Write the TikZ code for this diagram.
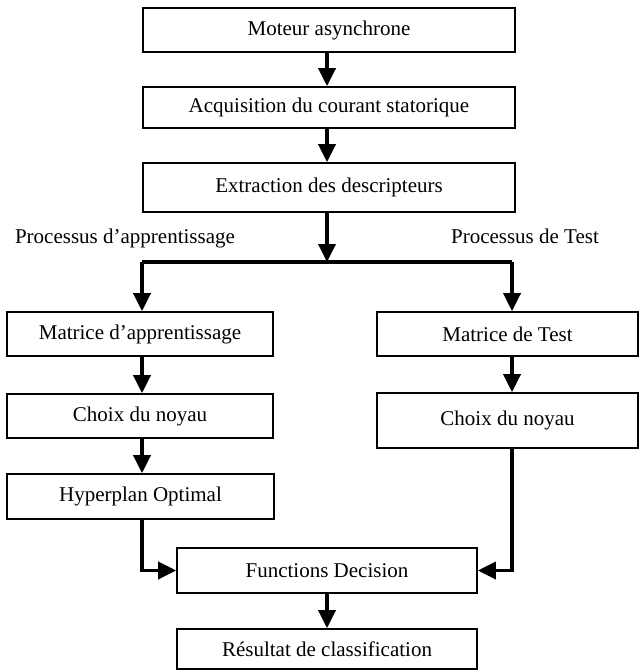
\documentclass[tikz,border=0pt]{standalone}
\usepackage{fontspec}
\setmainfont{Liberation Serif}
\usetikzlibrary{arrows.meta}
\begin{document}
\begin{tikzpicture}[x=1pt,y=-1pt,
  box/.style={draw,line width=1.6pt,inner sep=0pt,font=\fontsize{21}{25}\selectfont},
  lbl/.style={inner sep=0pt,font=\fontsize{21}{25}\selectfont,anchor=base},
  arr/.style={line width=3.6pt,-{Triangle[length=18pt,width=17pt]}},
  ln/.style={line width=3.6pt}]
\useasboundingbox (0,0) rectangle (640,671);
\node[box,minimum width=372pt,minimum height=44pt] (m1) at (329,30) {Moteur asynchrone};
\node[box,minimum width=372pt,minimum height=41pt] (m2) at (329,107.5) {Acquisition du courant statorique};
\node[box,minimum width=372pt,minimum height=49pt] (m3) at (329,187.5) {Extraction des descripteurs};
\node[box,minimum width=266pt,minimum height=44pt] (la) at (140,334) {Matrice d’apprentissage};
\node[box,minimum width=261pt,minimum height=44pt] (ra) at (507.5,334) {Matrice de Test};
\node[box,minimum width=266pt,minimum height=44pt] (lb) at (140,416) {Choix du noyau};
\node[box,minimum width=261pt,minimum height=55pt] (rb) at (507.5,420.5) {Choix du noyau};
\node[box,minimum width=267pt,minimum height=45pt] (lc) at (140.5,496.5) {Hyperplan Optimal};
\node[box,minimum width=300pt,minimum height=45pt] (fd) at (327,570.5) {Functions Decision};
\node[box,minimum width=300pt,minimum height=40pt] (res) at (327,649) {Résultat de classification};
\node[lbl] (pa) at (125,243) {Processus d’apprentissage};
\node[lbl] (pt) at (525,243) {Processus de Test};
\coordinate (j) at (327,262);
\coordinate (lcn) at (142,262);
\coordinate (rcn) at (512,262);
\coordinate (lx) at (142,0);
\coordinate (rx) at (512,0);
\draw[arr] (m1.south -| j) -- (m2.north -| j);
\draw[arr] (m2.south -| j) -- (m3.north -| j);
\draw[arr] (m3.south -| j) -- (j);
\draw[ln] (lcn) -- (rcn);
\draw[arr] (lcn) -- (la.north -| lcn);
\draw[arr] (rcn) -- (ra.north -| rcn);
\draw[arr] (la.south -| lx) -- (lb.north -| lx);
\draw[arr] (lb.south -| lx) -- (lc.north -| lx);
\draw[arr] (ra.south -| rx) -- (rb.north -| rx);
\draw[arr] (lc.south -| lx) |- (fd.west);
\draw[arr] (rb.south -| rx) |- (fd.east);
\draw[arr] (fd.south -| j) -- (res.north -| j);
\end{tikzpicture}
\end{document}
